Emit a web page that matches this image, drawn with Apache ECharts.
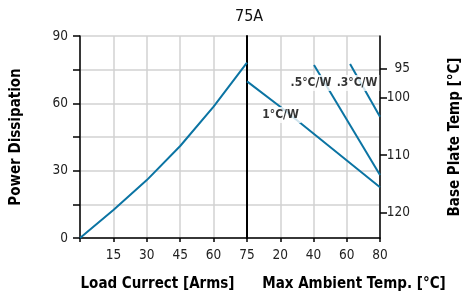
<!DOCTYPE html>
<html>
<head>
<meta charset="utf-8">
<script src="https://cdn.jsdelivr.net/npm/echarts@6/dist/echarts.min.js"></script>
<style>
  html, body { margin: 0; padding: 0; background: #fff; }
  #chart { width: 469px; height: 299px; }
</style>
</head>
<body>
<div id="chart"></div>
<script>
// load current [A] vs power dissipation [W]
var loadCurrent = [0, 15, 30, 45, 60, 75]
var powerLoss = [0, 12.5, 25.8, 41, 58.5, 78.1]

// derating lines, [ambient temp, power]
var line1 = [[0, 69.8], [20, 58.5], [80, 22.6]]
var line05 = [[40.3, 77.1], [80, 28.1]]
var line03 = [[62, 77.5], [80, 54]]
var lineLabels = [
  { name: '1°C/W', value: [20.2, 54.8] },
  { name: '.5°C/W', value: [38.5, 69.1] },
  { name: '.3°C/W', value: [66.2, 69.1] }
]

var plateTicks = [95, 100, 110, 120]

var FONT = '"Liberation Sans Narrow", "DejaVu Sans Condensed", "Liberation Sans", sans-serif'
var BLUE = '#0b74a3'
var GRID = '#d2d2d2'

var chart = echarts.init(document.getElementById('chart'))

function valueAxisBase() {
  return {
    type: 'value',
    axisLine: { show: true, lineStyle: { color: '#000', width: 1.5 } },
    axisTick: { show: true, length: 4, lineStyle: { color: '#000', width: 1.5 } },
    splitLine: { show: true, lineStyle: { color: GRID, width: 1.5 } },
    axisLabel: { color: '#222', fontSize: 13.5, fontFamily: FONT, margin: 10 },
    nameTextStyle: { color: '#000', fontSize: 15, fontWeight: 'bold', fontFamily: FONT }
  }
}

var xLeft = Object.assign(valueAxisBase(), {
  gridIndex: 0, min: 0, max: 75, interval: 15,
  name: 'Load Currect [Arms]', nameLocation: 'middle', nameGap: 39
})
xLeft.axisLabel.formatter = function (v) { return v === 0 ? '' : v }
xLeft.nameTextStyle.padding = [0, 12, 0, 0]

var xRight = Object.assign(valueAxisBase(), {
  gridIndex: 1, min: 0, max: 80, interval: 20,
  name: 'Max Ambient Temp. [°C]', nameLocation: 'middle', nameGap: 39
})
xRight.axisLabel.formatter = function (v) { return v === 0 ? '' : v }
xRight.nameTextStyle.padding = [0, 0, 0, 81]

var yLeft = Object.assign(valueAxisBase(), {
  gridIndex: 0, min: 0, max: 90, interval: 15,
  name: 'Power Dissipation', nameLocation: 'middle', nameGap: 56
})
yLeft.axisTick.length = 7
yLeft.axisLabel.margin = 12
yLeft.axisLabel.formatter = function (v) { return v % 30 === 0 ? v : '' }

var yRightPower = Object.assign(valueAxisBase(), {
  gridIndex: 1, min: 0, max: 90, interval: 15, position: 'left'
})
yRightPower.axisLine.lineStyle.width = 2
yRightPower.axisTick.show = false
yRightPower.axisLabel.show = false

var yPlate = Object.assign(valueAxisBase(), {
  gridIndex: 1, position: 'right', inverse: true, min: 89.26, max: 124.4,
  name: 'Base Plate Temp [°C]', nameLocation: 'middle', nameGap: 68, nameRotate: 90
})
yPlate.splitLine.show = false
yPlate.axisTick.length = 7
yPlate.axisTick.customValues = plateTicks
yPlate.axisLabel.customValues = plateTicks
yPlate.axisLabel.align = 'right'
yPlate.axisLabel.margin = 30

chart.setOption({
  animation: false,
  title: {
    text: '75A',
    left: 230,
    top: 4,
    textStyle: { fontSize: 16, fontWeight: 'normal', color: '#111', fontFamily: FONT }
  },
  grid: [
    { left: 80, top: 36, width: 167, height: 202 },
    { left: 247, top: 36, width: 133, height: 202 }
  ],
  xAxis: [xLeft, xRight],
  yAxis: [yLeft, yRightPower, yPlate],
  series: [
    {
      type: 'line',
      xAxisIndex: 0,
      yAxisIndex: 0,
      data: loadCurrent.map(function (c, i) { return [c, powerLoss[i]] }),
      symbol: 'none',
      lineStyle: { color: BLUE, width: 2 },
      z: 3
    },
    {
      type: 'line', xAxisIndex: 1, yAxisIndex: 1, data: line1,
      symbol: 'none', lineStyle: { color: BLUE, width: 2 }, z: 3
    },
    {
      type: 'line', xAxisIndex: 1, yAxisIndex: 1, data: line05,
      symbol: 'none', lineStyle: { color: BLUE, width: 2 }, z: 3
    },
    {
      type: 'line', xAxisIndex: 1, yAxisIndex: 1, data: line03,
      symbol: 'none', lineStyle: { color: BLUE, width: 2 }, z: 3
    },
    {
      type: 'scatter', xAxisIndex: 1, yAxisIndex: 1, data: lineLabels,
      symbolSize: 0, z: 10,
      label: {
        show: true,
        position: 'inside',
        formatter: '{b}',
        color: '#000',
        fontSize: 12,
        fontWeight: 'bold',
        fontFamily: FONT,
        backgroundColor: '#fff',
        padding: [2, 2]
      }
    }
  ]
})
</script>
</body>
</html>
